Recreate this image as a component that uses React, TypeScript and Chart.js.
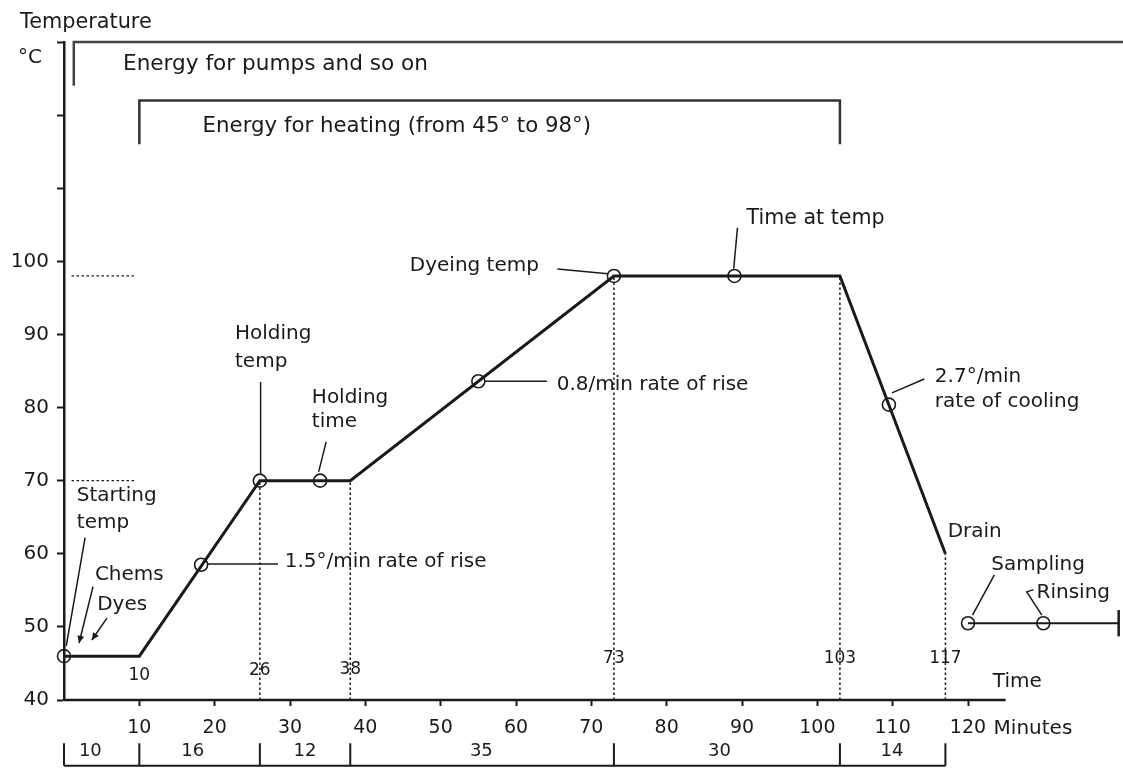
import React, { useEffect, useRef } from 'react';
import { Chart, registerables } from 'chart.js';

Chart.register(...registerables);

// ---- data (minutes, °C) ----
const profileMinutes = [0, 10, 26, 38, 73, 103, 117];
const profileTemps = [46, 46, 70, 70, 98, 98, 60];
const rinseMinutes = [120, 140];
const rinseTemps = [50.5, 50.5];
const markerMinutes = [0, 18.2, 26, 34, 55, 73, 89, 109.5, 120, 130];
const markerTemps = [46, 58.5, 70, 70, 83.6, 98, 98, 80.4, 50.5, 50.5];
const dropMinutes = [26, 38, 73, 103, 117];
const dropTemps = [70, 70, 98, 98, 60];
const guideTemps = [98, 70];
const eventLabelMinutes = [10, 26, 38, 73, 103, 117];
const eventLabelTemps = [43.4, 44.0, 44.1, 45.7, 45.7, 45.7];
const phaseBounds = [0, 10, 26, 38, 73, 103, 117];
const phaseDurations = [10, 16, 12, 35, 30, 14];
const phaseLabelMinutes = [3.5, 17.1, 32, 55.4, 87, 109.9];
const xTickValues = [10, 20, 30, 40, 50, 60, 70, 80, 90, 100, 110, 120];
const yTickValues = [40, 50, 60, 70, 80, 90, 100, 110, 120, 130];
const yLabelMax = 100;
const pumpsBracketX = [1.3, 1.3, 141.5];
const pumpsBracketY = [124, 130, 130];
const heatingBracketX = [10, 10, 103, 103];
const heatingBracketY = [116, 122, 122, 116];

const INK = '#1a1a1a';
const FONT = '"DejaVu Sans", "Liberation Sans", sans-serif';

type Lbl = { text: string; x: number; y: number; size?: number; align?: CanvasTextAlign };
const textLabels: Lbl[] = [
  { text: 'Temperature', x: -5.84, y: 132.7, size: 20.8 },
  { text: '°C', x: -6.1, y: 127.9 },
  { text: 'Energy for pumps and so on', x: 7.83, y: 126.9, size: 21.6 },
  { text: 'Energy for heating (from 45° to 98°)', x: 18.4, y: 118.4, size: 21.3 },
  { text: 'Time at temp', x: 90.6, y: 105.9, size: 20.6 },
  { text: 'Dyeing temp', x: 45.9, y: 99.4 },
  { text: 'Holding', x: 22.7, y: 90.1 },
  { text: 'temp', x: 22.7, y: 86.2 },
  { text: 'Holding', x: 32.9, y: 81.4 },
  { text: 'time', x: 32.9, y: 78.0 },
  { text: '0.8/min rate of rise', x: 65.4, y: 83.1 },
  { text: '1.5°/min rate of rise', x: 29.3, y: 58.9 },
  { text: '2.7°/min', x: 115.6, y: 84.2 },
  { text: 'rate of cooling', x: 115.6, y: 80.8 },
  { text: 'Drain', x: 117.3, y: 63.0 },
  { text: 'Sampling', x: 123.1, y: 58.5 },
  { text: 'Rinsing', x: 129.1, y: 54.6 },
  { text: 'Starting', x: 1.7, y: 67.9 },
  { text: 'temp', x: 1.7, y: 64.2 },
  { text: 'Chems', x: 4.1, y: 57.1 },
  { text: 'Dyes', x: 4.4, y: 53.0 },
  { text: 'Time', x: 123.3, y: 42.5 },
  { text: 'Minutes', x: 123.4, y: 36.1 },
];

const leaders: number[][][] = [
  [[65.5, 98.95], [72.2, 98.3]],
  [[26.1, 83.5], [26.1, 71.0]],
  [[34.8, 75.3], [33.8, 71.2]],
  [[89.4, 104.6], [88.9, 99.0]],
  [[55.9, 83.6], [64.1, 83.6]],
  [[19.0, 58.6], [28.4, 58.6]],
  [[109.9, 82.0], [114.2, 83.9]],
  [[120.6, 51.6], [123.5, 57.1]],
  [[129.8, 51.6], [127.8, 54.8], [128.7, 55.1]],
  [[2.8, 62.2], [0.3, 47.4]],
];
const arrows: number[][][] = [
  [[3.85, 55.5], [2.0, 47.8]],
  [[5.7, 51.2], [3.7, 48.2]],
];

function line(xs: number[], ys: number[], extra: any = {}) {
  return {
    type: 'line',
    data: xs.map((x, i) => ({ x, y: ys[i] })),
    borderColor: INK,
    borderWidth: 2.5,
    pointRadius: 0,
    tension: 0,
    fill: false,
    clip: false,
    ...extra,
  };
}

const annotate = {
  id: 'annotate',
  afterDatasetsDraw(chart: any) {
    const { ctx, scales } = chart;
    const X = (v: number) => scales.x.getPixelForValue(v);
    const Y = (v: number) => scales.y.getPixelForValue(v);
    ctx.save();
    ctx.fillStyle = INK;
    ctx.strokeStyle = INK;
    ctx.textBaseline = 'middle';
    for (const l of textLabels) {
      ctx.font = `${l.size || 20}px ${FONT}`;
      ctx.textAlign = l.align || 'left';
      ctx.fillText(l.text, X(l.x), Y(l.y));
    }
    ctx.font = `17px ${FONT}`;
    ctx.textAlign = 'center';
    eventLabelMinutes.forEach((m, i) => ctx.fillText(String(m), X(m), Y(eventLabelTemps[i])));

    ctx.lineWidth = 1.5;
    for (const seg of leaders) {
      ctx.beginPath();
      seg.forEach(([a, b], i) => (i ? ctx.lineTo(X(a), Y(b)) : ctx.moveTo(X(a), Y(b))));
      ctx.stroke();
    }
    for (const [[a1, b1], [a2, b2]] of arrows) {
      const x1 = X(a1), y1 = Y(b1), x2 = X(a2), y2 = Y(b2);
      ctx.beginPath();
      ctx.moveTo(x1, y1);
      ctx.lineTo(x2, y2);
      ctx.stroke();
      const ang = Math.atan2(y2 - y1, x2 - x1);
      ctx.beginPath();
      ctx.moveTo(x2, y2);
      ctx.lineTo(x2 - 8 * Math.cos(ang - 0.45), y2 - 8 * Math.sin(ang - 0.45));
      ctx.lineTo(x2 - 8 * Math.cos(ang + 0.45), y2 - 8 * Math.sin(ang + 0.45));
      ctx.closePath();
      ctx.fill();
    }

    // phase duration row below the axis
    ctx.lineWidth = 2;
    const rowY = Y(31.0);
    ctx.beginPath();
    ctx.moveTo(X(phaseBounds[0]), rowY);
    ctx.lineTo(X(phaseBounds[phaseBounds.length - 1]), rowY);
    for (const b of phaseBounds) {
      ctx.moveTo(X(b), Y(34.1));
      ctx.lineTo(X(b), rowY);
    }
    ctx.stroke();
    ctx.font = `18px ${FONT}`;
    ctx.textAlign = 'center';
    phaseDurations.forEach((d, i) => {
      ctx.fillText(String(d), X(phaseLabelMinutes[i]), Y(33.0));
    });
    ctx.restore();
  },
};

export default function App() {
  const ref = useRef<HTMLCanvasElement | null>(null);
  useEffect(() => {
    if (!ref.current) return;
    const datasets: any[] = [
      line(pumpsBracketX, pumpsBracketY, { borderWidth: 2.5, borderColor: '#444' }),
      line(heatingBracketX, heatingBracketY, { borderWidth: 2.5, borderColor: '#333' }),
      line([0, 125], [40, 40], { borderWidth: 2.5 }),
      ...guideTemps.map((t) => line([1, 9.5], [t, t], { borderWidth: 1.3, borderDash: [2.5, 2.5] })),
      ...dropMinutes.map((m, i) => line([m, m], [40, dropTemps[i]], { borderWidth: 1.5, borderDash: [2.5, 2.5] })),
      line(profileMinutes, profileTemps, { borderWidth: 3, borderJoinStyle: 'miter' }),
      line(rinseMinutes, rinseTemps, { borderWidth: 2 }),
      line([140, 140], [48.7, 52.3], { borderWidth: 2.5 }),
      {
        type: 'line',
        data: markerMinutes.map((x, i) => ({ x, y: markerTemps[i] })),
        showLine: false,
        pointRadius: 6.5,
        pointBorderWidth: 1.6,
        pointBorderColor: INK,
        pointBackgroundColor: 'rgba(0,0,0,0)',
        clip: false,
      },
    ];
    const chart = new Chart(ref.current, {
      type: 'line',
      data: { datasets },
      options: {
        animation: false,
        responsive: true,
        maintainAspectRatio: false,
        events: [],
        layout: { padding: { top: 42, right: 0, left: 0, bottom: 0 } },
        plugins: { legend: { display: false }, tooltip: { enabled: false }, title: { display: false } },
        scales: {
          x: {
            type: 'linear',
            min: 0,
            max: 139.5,
            afterBuildTicks: (s: any) => {
              s.ticks = xTickValues.map((v) => ({ value: v }));
            },
            afterFit: (s: any) => {
              s.height = 69;
            },
            border: { display: false },
            grid: { drawOnChartArea: false, drawTicks: true, tickLength: 6, color: INK, tickWidth: 2 },
            ticks: { color: INK, font: { family: FONT, size: 19 }, padding: 11, maxRotation: 0, autoSkip: false },
          },
          y: {
            type: 'linear',
            min: 40,
            max: 130,
            afterBuildTicks: (s: any) => {
              s.ticks = yTickValues.map((v) => ({ value: v }));
            },
            afterFit: (s: any) => {
              s.width = 64;
            },
            border: { display: true, color: INK, width: 2.5 },
            grid: { drawOnChartArea: false, drawTicks: true, tickLength: 7, color: INK, tickWidth: 2 },
            ticks: {
              color: INK,
              font: { family: FONT, size: 20 },
              padding: 8,
              autoSkip: false,
              callback: (v: any) => (Number(v) <= yLabelMax ? String(v) : ''),
            },
          },
        },
      },
      plugins: [annotate],
    } as any);
    return () => chart.destroy();
  }, []);
  return (
    <div style={{ position: 'fixed', left: 0, top: 0, width: 1123, height: 769, background: '#fff' }}>
      <canvas ref={ref} />
    </div>
  );
}
